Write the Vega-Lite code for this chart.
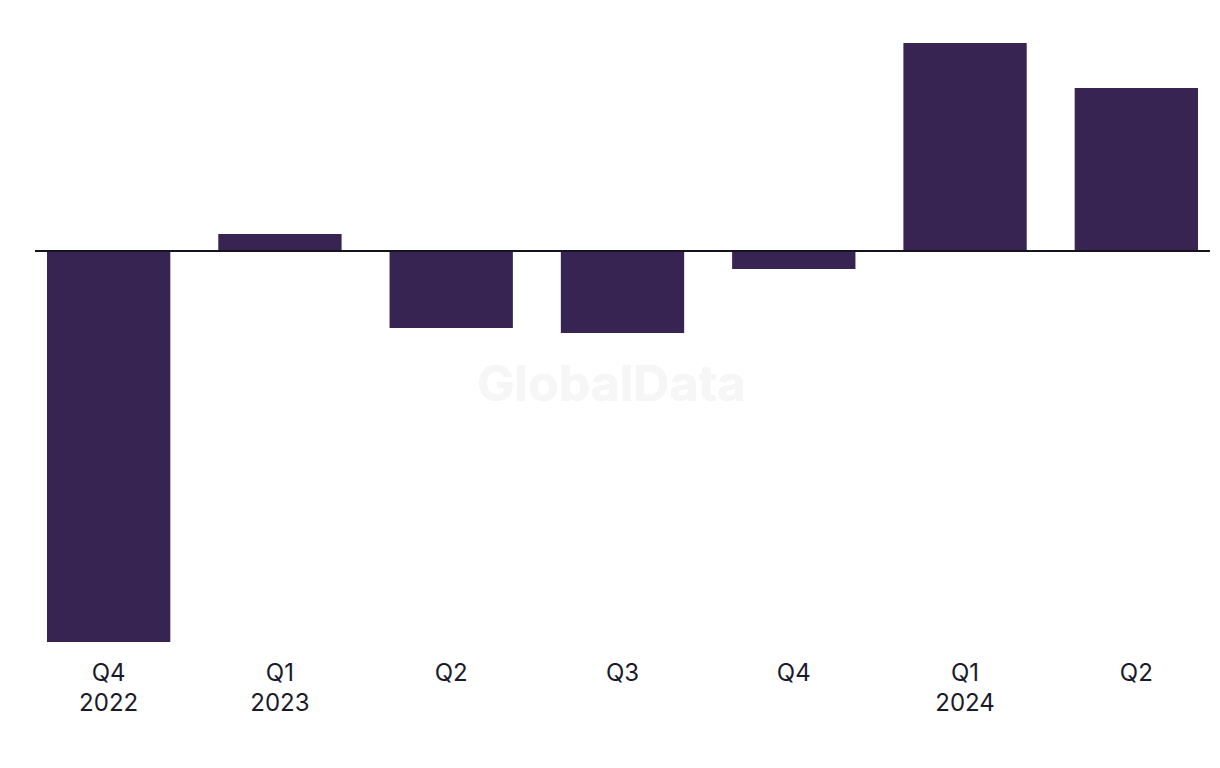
{
  "$schema": "https://vega.github.io/schema/vega-lite/v6.json",
  "width": 1175,
  "height": 620,
  "autosize": {"type": "none"},
  "padding": {"left": 35, "top": 31, "right": 10, "bottom": 117},
  "background": "white",
  "config": {"view": {"stroke": null}},
  "data": {
    "values": [
      {"period": "Q4|2022", "value": -39.1},
      {"period": "Q1|2023", "value": 1.7},
      {"period": "Q2", "value": -7.7},
      {"period": "Q3", "value": -8.2},
      {"period": "Q4", "value": -1.8},
      {"period": "Q1|2024", "value": 20.8},
      {"period": "Q2 ", "value": 16.3}
    ]
  },
  "encoding": {
    "y": {"type": "quantitative", "scale": {"domain": [-40, 22], "nice": false, "zero": false}, "axis": null}
  },
  "layer": [
    {
      "mark": {"type": "bar", "color": "#372452"},
      "encoding": {
        "x": {
          "field": "period",
          "type": "nominal",
          "sort": null,
          "scale": {"paddingInner": 0.28, "paddingOuter": 0.07},
          "axis": {
            "title": null,
            "domain": false,
            "ticks": false,
            "labelAngle": 0,
            "labelExpr": "split(trim(datum.value), '|')",
            "labelFont": "Inter",
            "labelFontSize": 24,
            "labelLineHeight": 30,
            "labelColor": "#1a1a2a",
            "labelPadding": 10,
            "labelBaseline": "top"
          }
        },
        "y": {"field": "value", "type": "quantitative"}
      }
    },
    {
      "mark": {"type": "text", "text": "GlobalData", "font": "Inter", "fontWeight": "bold", "fontSize": 50, "color": "#f6f6f6", "dx": -11},
      "encoding": {"x": {"datum": "Q3", "type": "nominal"}, "y": {"datum": -13.5, "type": "quantitative"}}
    },
    {
      "mark": {"type": "rule", "color": "#15131f", "strokeWidth": 2},
      "encoding": {"y": {"datum": 0, "type": "quantitative"}}
    }
  ]
}
